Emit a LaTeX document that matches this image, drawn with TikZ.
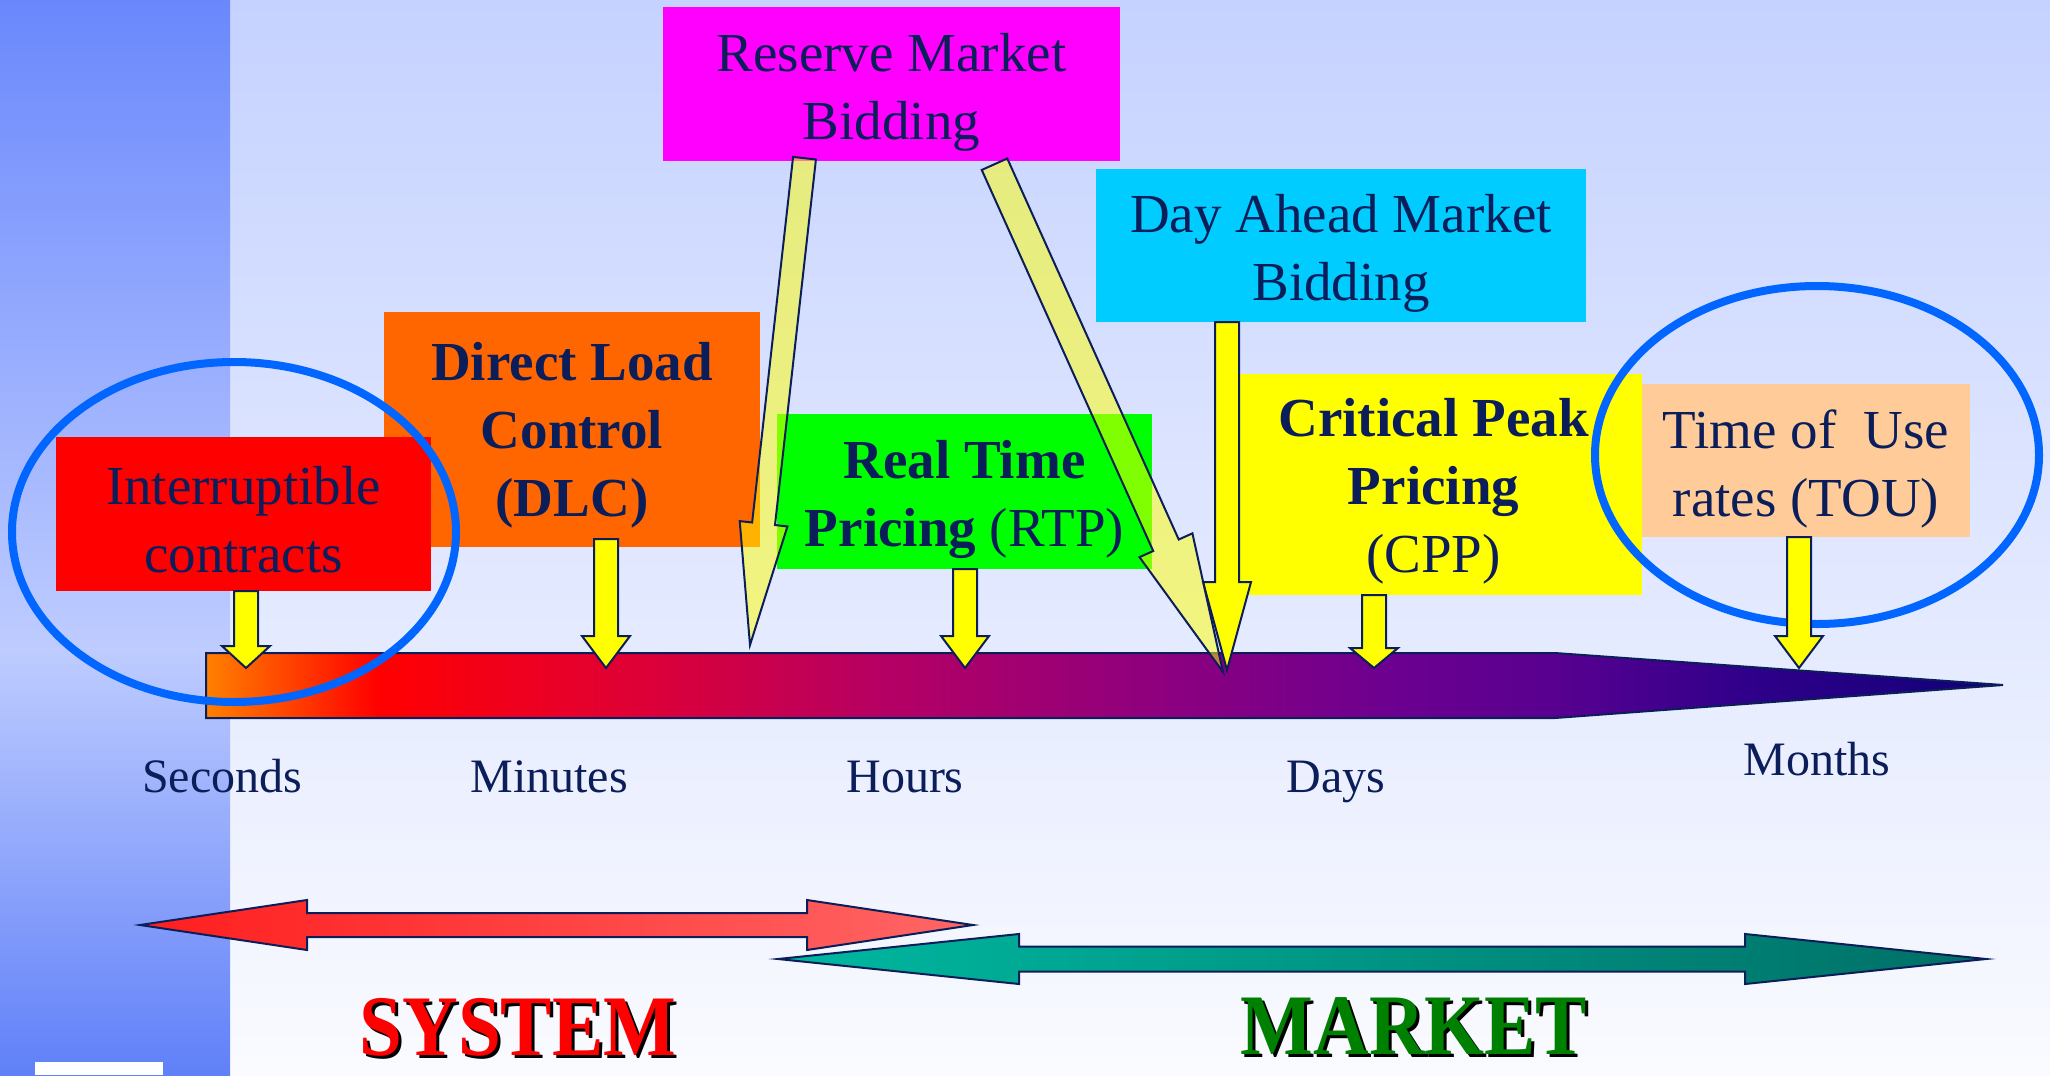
\documentclass[tikz,border=0pt]{standalone}
\usepackage{fontspec}
\setmainfont{Liberation Serif}
\usetikzlibrary{calc}

\definecolor{navytext}{RGB}{12,30,90}
\definecolor{ringblue}{RGB}{0,102,255}
\definecolor{pinkbox}{RGB}{255,0,255}
\definecolor{skyblue}{RGB}{0,204,255}
\definecolor{dlcorange}{RGB}{255,102,0}
\definecolor{purered}{RGB}{255,0,0}
\definecolor{rtpgreen}{RGB}{0,255,0}
\definecolor{pureyellow}{RGB}{255,255,0}
\definecolor{peach}{RGB}{255,204,153}
\definecolor{bgtop}{RGB}{197,210,255}
\definecolor{bgbottom}{RGB}{250,251,255}
\definecolor{stripdark}{RGB}{106,136,252}
\definecolor{striplight}{RGB}{190,204,255}
\definecolor{stripdarkb}{RGB}{96,128,248}
\definecolor{sysleft}{RGB}{255,30,30}
\definecolor{sysright}{RGB}{255,102,102}
\definecolor{mktleft}{RGB}{0,184,160}
\definecolor{mktright}{RGB}{0,111,102}
\definecolor{marketgreen}{RGB}{0,128,0}
\definecolor{barA}{RGB}{255,128,0}
\definecolor{barB}{RGB}{255,0,0}
\definecolor{barC}{RGB}{232,0,42}
\definecolor{barD}{RGB}{180,0,100}
\definecolor{barE}{RGB}{140,0,127}
\definecolor{barF}{RGB}{108,0,144}
\definecolor{barG}{RGB}{88,0,144}
\definecolor{barH}{RGB}{48,0,138}
\definecolor{barI}{RGB}{16,0,120}

\pgfdeclarehorizontalshading{timebar}{100bp}{color(0bp)=(barA); color(25bp)=(barA);
  color(29.8bp)=(barB); color(35.2bp)=(barC); color(44bp)=(barD); color(51.8bp)=(barE);
  color(58bp)=(barF); color(62.6bp)=(barG); color(67.8bp)=(barH); color(75bp)=(barI);
  color(100bp)=(barI)}

% block arrow: style, start, tip, half shaft, half head, head length
\newcommand{\fatarrow}[6][]{%
  \coordinate (fah) at ($(#3)!#6!(#2)$);
  \draw[#1] ($(#2)!#4!90:(#3)$) -- ($(fah)!#4!90:(#3)$) -- ($(fah)!#5!90:(#3)$) -- (#3)
    -- ($(fah)!#5!-90:(#3)$) -- ($(fah)!#4!-90:(#3)$) -- ($(#2)!#4!-90:(#3)$) -- cycle;
}

\tikzset{
  box/.style={inner sep=0pt},
  boxtext/.style={inner sep=0pt, align=center, text=navytext, font=\fontsize{55bp}{68bp}\selectfont},
  tick/.style={anchor=base, text=navytext, font=\fontsize{48bp}{58bp}\selectfont},
  bigword/.style={anchor=base, inner sep=0pt, font=\fontsize{77bp}{80bp}\selectfont\bfseries},
  ring/.style={draw=ringblue, line width=8bp},
  plainarr/.style={fill=pureyellow, draw=navytext, line width=2bp},
  reservearr/.style={fill=pureyellow, fill opacity=0.5, draw=navytext, line width=2bp},
  widearr/.style={draw=navytext, line width=2bp}
}

\begin{document}
\begin{tikzpicture}[x=1bp, y=-1bp]
\useasboundingbox (0,0) rectangle (2050,1075);
% background
\shade[top color=bgtop, bottom color=bgbottom] (230,0) rectangle (2050,1075);
\shade[top color=stripdark, bottom color=striplight] (0,0) rectangle (230,650);
\shade[top color=striplight, bottom color=stripdarkb] (0,650) rectangle (230,1075);
\fill[white] (35,1062) rectangle (163,1075);

% boxes
\node[box, fill=pinkbox, minimum width=457bp, minimum height=154bp] (res) at (891.5,84) {};
\node[box, fill=skyblue, minimum width=490bp, minimum height=153bp] (day) at (1341,245.5) {};
\node[box, fill=dlcorange, minimum width=376bp, minimum height=235bp] (dlc) at (572,429.5) {};
\node[box, fill=purered, minimum width=375bp, minimum height=154bp] (intr) at (243.5,514) {};
\node[box, fill=rtpgreen, minimum width=375bp, minimum height=155bp] (rtp) at (964.5,491.5) {};
\node[box, fill=pureyellow, minimum width=405bp, minimum height=221bp] (cpp) at (1439.5,484.5) {};
\node[box, fill=peach, minimum width=328bp, minimum height=153bp] (tou) at (1806,460.5) {};

\node[boxtext] (restext) at ([yshift=-8bp]res.center) {Reserve Market\\Bidding};
\node[boxtext] (daytext) at ([yshift=-8bp]day.center) {Day Ahead Market\\Bidding};
\node[boxtext] (dlctext) at ([yshift=-6bp]dlc.center) {\textbf{Direct Load}\\\textbf{Control}\\\textbf{(DLC)}};
\node[boxtext] (intrtext) at ([yshift=-6bp]intr.center) {Interruptible\\contracts};
\node[boxtext] (rtptext) at ([yshift=-8bp]rtp.center) {\textbf{Real Time}\\\textbf{Pricing} (RTP)};
\node[boxtext] (cpptext) at ([xshift=-6bp,yshift=-7bp]cpp.center) {\textbf{Critical Peak}\\\textbf{Pricing}\\(CPP)};
\node[boxtext] (toutext) at ([yshift=-8bp]tou.center) {Time of\ \ Use\\rates (TOU)};

% time bar
\shadedraw[shading=timebar, draw=navytext, line width=2bp] (206,653) -- (1555,653) -- (2003,685) -- (1555,718) -- (206,718) -- cycle;

\draw[ring] (234,532) ellipse [x radius=222bp, y radius=170bp];
\draw[ring] (1817,455) ellipse [x radius=222bp, y radius=169bp];

% arrows onto the bar
\coordinate (tsec) at (246,668);
\coordinate (tdlc) at (606,668);
\coordinate (trtp) at (965,668);
\coordinate (tcpp) at (1374,668);
\coordinate (ttou) at (1799,668);
\coordinate (tday) at (1227,670);
\coordinate (tresa) at (750,645);
\coordinate (tresb) at (1223,672);
\coordinate (ssec) at (tsec |- intr.south);
\coordinate (sdlc) at ([yshift=8bp]tdlc |- dlc.south);
\coordinate (srtp) at (trtp |- rtp.south);
\coordinate (scpp) at (tcpp |- cpp.south);
\coordinate (stou) at (ttou |- tou.south);
\coordinate (sday) at (tday |- day.south);
\coordinate (sresa) at ([xshift=-87bp,yshift=3bp]res.south);
\coordinate (sresb) at ([xshift=103bp,yshift=-3bp]res.south);

\fatarrow[plainarr]{ssec}{tsec}{12bp}{24bp}{22bp}
\fatarrow[plainarr]{sdlc}{tdlc}{12bp}{24bp}{32bp}
\fatarrow[plainarr]{srtp}{trtp}{12bp}{24bp}{32bp}
\fatarrow[plainarr]{scpp}{tcpp}{12bp}{24bp}{20bp}
\fatarrow[plainarr]{stou}{ttou}{12bp}{24bp}{32bp}
\fatarrow[plainarr]{sday}{tday}{12bp}{24bp}{88bp}
\fatarrow[reservearr]{sresa}{tresa}{11.5bp}{24bp}{122bp}
\fatarrow[reservearr]{sresb}{tresb}{14bp}{29bp}{139bp}

% time scale
\node[tick] (sec) at (222,792) {Seconds};
\node[tick] (min) at (549,792) {Minutes};
\node[tick] (hrs) at (905,792) {Hours};
\node[tick] (dys) at (1336,792) {Days};
\node[tick] (mon) at (1817,775) {Months};

% system / market ranges
\shadedraw[widearr, left color=sysleft, right color=sysright] (140,925) -- (307,900) -- (307,913) -- (807,913) -- (807,900) -- (973,925) -- (807,950) -- (807,937) -- (307,937) -- (307,950) -- cycle;
\shadedraw[widearr, left color=mktleft, right color=mktright] (778,959) -- (1019,934) -- (1019,946.5) -- (1745,946.5) -- (1745,934) -- (1986,959) -- (1745,984) -- (1745,971.5) -- (1019,971.5) -- (1019,984) -- cycle;

\node[bigword, text=black] (sysshadow) at (521,1058) {\scalebox{1}[1.12]{SYSTEM}};
\node[bigword, text=purered] (system) at (518,1055) {\scalebox{1}[1.12]{SYSTEM}};
\node[bigword, text=black] (mktshadow) at (1417,1057) {\scalebox{1}[1.12]{MARKET}};
\node[bigword, text=marketgreen] (market) at (1414,1054) {\scalebox{1}[1.12]{MARKET}};
\end{tikzpicture}
\end{document}
